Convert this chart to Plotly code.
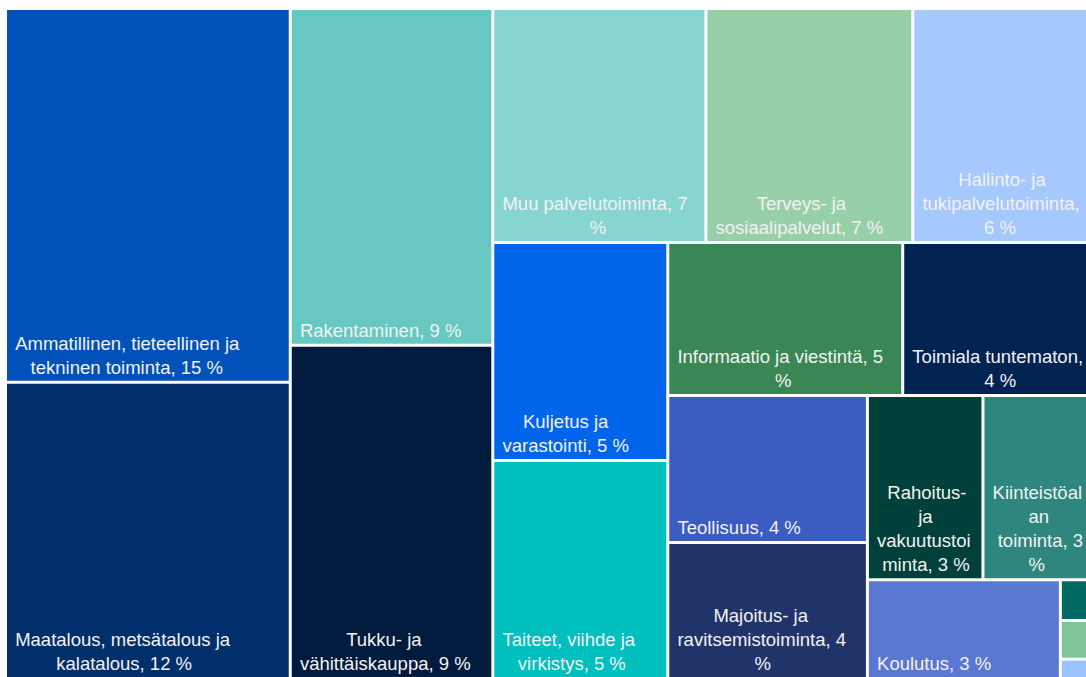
import plotly.graph_objects as go

# ---- data -------------------------------------------------------------
categories = [
    "Ammatillinen, tieteellinen ja tekninen toiminta",
    "Maatalous, metsätalous ja kalatalous",
    "Rakentaminen",
    "Tukku- ja vähittäiskauppa",
    "Muu palvelutoiminta",
    "Terveys- ja sosiaalipalvelut",
    "Hallinto- ja tukipalvelutoiminta",
    "Kuljetus ja varastointi",
    "Taiteet, viihde ja virkistys",
    "Informaatio ja viestintä",
    "Toimiala tuntematon",
    "Teollisuus",
    "Majoitus- ja ravitsemistoiminta",
    "Rahoitus- ja vakuutustoiminta",
    "Kiinteistöalan toiminta",
    "Koulutus",
    "Vesihuolto, viemäri- ja jätevesihuolto",
    "Sähkö-, kaasu- ja lämpöhuolto",
    "Kaivostoiminta ja louhinta",
]
shares = [14.51, 11.5, 9.3, 9.2, 6.8, 6.6, 5.8, 5.2, 5.2, 4.9, 4.0, 4.0, 3.7,
          2.9, 2.8, 2.6, 0.19, 0.18, 0.09]
# label text as wrapped in the picture
wrapped_names = [
    "Ammatillinen, tieteellinen ja<br>tekninen toiminta",
    "Maatalous, metsätalous ja<br>kalatalous",
    "Rakentaminen",
    "Tukku- ja<br>vähittäiskauppa",
    "Muu palvelutoiminta, 7<br>%",
    "Terveys- ja<br>sosiaalipalvelut",
    "Hallinto- ja<br>tukipalvelutoiminta,<br>6 %",
    "Kuljetus ja<br>varastointi",
    "Taiteet, viihde ja<br>virkistys",
    "Informaatio ja viestintä, 5<br>%",
    "Toimiala tuntematon,<br>4 %",
    "Teollisuus",
    "Majoitus- ja<br>ravitsemistoiminta, 4<br>%",
    "Rahoitus-<br>ja<br>vakuutustoi<br>minta, 3 %",
    "Kiinteistöal<br>an<br>toiminta, 3<br>%",
    "Koulutus",
    "V<br>e<br>s<br>i",
    "S<br>ä<br>h",
    "K<br>a<br>i",
]
colors = [
    "#0051BA", "#002F6C", "#66C8C1", "#001B3E", "#87D5D0", "#97CFA9",
    "#A5C8FF", "#0065EB", "#00BFBF", "#3A8755", "#012352", "#3B5CC0",
    "#213469", "#00403A", "#2E867E", "#5A78D1", "#006A62", "#7DC597",
    "#9AC2FF",
]
# grouping of the tiles (layout blocks, alternating column/row splits)
group_ids = ["root", "c1", "c2", "r", "r_top", "r_low", "k", "i", "i_top",
             "t", "tl", "f", "f_top", "g", "h"]
group_parents = ["", "root", "root", "root", "r", "r", "r_low", "r_low", "i",
                 "i", "t", "t", "f", "f", "g"]
leaf_parents = ["c1", "c1", "c2", "c2", "r_top", "r_top", "r_top", "k", "k",
                "i_top", "i_top", "tl", "tl", "f_top", "f_top", "g", "h", "h", "h"]

# ---- text formatting --------------------------------------------------
FONT_SIZE = 18.5
LEAD_PX = 6.0  # extra inset of the label block from the tile's left edge
NBSP = "\u00a0"
# Arial / Liberation Sans advance widths (per 1000 em)
ADV = {" ": 278, NBSP: 278, ",": 278, "-": 333, "%": 889, ".": 278}
ADV.update({d: 556 for d in "0123456789"})
ADV.update(dict(zip("ABCDEFGHIJKLMNOPQRSTUVWXYZ",
                    [667, 667, 722, 722, 667, 611, 778, 722, 278, 500, 667, 556,
                     833, 722, 778, 667, 778, 722, 667, 611, 722, 667, 944, 667,
                     667, 611])))
ADV.update(dict(zip("abcdefghijklmnopqrstuvwxyz",
                    [556, 556, 500, 556, 556, 278, 556, 556, 222, 222, 500, 222,
                     833, 556, 556, 556, 556, 333, 500, 278, 556, 500, 722, 500,
                     500, 500])))
ADV.update({"ä": 556, "ö": 556, "Ä": 667, "Ö": 778})


def text_width(s):
    return sum(ADV.get(c, 556) for c in s) / 1000.0 * FONT_SIZE


def centred_block(label):
    """Lines centred on each other inside a left-anchored block."""
    lines = label.split("<br>")
    widths = [text_width(l) for l in lines]
    wmax = max(widths)
    sp = text_width(NBSP)
    out = []
    for line, w in zip(lines, widths):
        n = int(round(((wmax - w) / 2.0 + LEAD_PX) / sp))
        out.append(NBSP * n + line)
    return "<br>".join(out)


def label_text(wrapped, share):
    if "%" not in wrapped:
        wrapped = f"{wrapped}, {round(share)} %"
    return centred_block(wrapped)


# ---- build ------------------------------------------------------------
# groups (except the last small block) first, then leaves, then the small
# block so that sibling order follows the picture
last_group = group_ids[-1]
g_ids = [g for g in group_ids if g != last_group]
g_par = [p for g, p in zip(group_ids, group_parents) if g != last_group]

ids = g_ids + [f"leaf{i}" for i in range(len(categories))] + [last_group]
labels = [""] * len(g_ids) + categories + [""]
parents = g_par + leaf_parents + [group_parents[-1]]
values = [0] * len(g_ids) + shares + [0]
texts = [""] * len(g_ids) + [
    label_text(w, s) for w, s in zip(wrapped_names, shares)
] + [""]
marker_colors = ["#FFFFFF"] * len(g_ids) + colors + ["#FFFFFF"]

fig = go.Figure(
    go.Treemap(
        ids=ids,
        labels=labels,
        parents=parents,
        values=values,
        text=texts,
        textinfo="text",
        textposition="bottom left",
        textfont=dict(family="Liberation Sans, Arial, sans-serif",
                      size=FONT_SIZE, color="#F2F2F2"),
        branchvalues="remainder",
        sort=False,
        marker=dict(colors=marker_colors, line=dict(width=0),
                    pad=dict(t=0, l=0, r=0, b=0)),
        tiling=dict(packing="slice-dice", pad=3),
        pathbar=dict(visible=False),
        hoverinfo="skip",
        root=dict(color="#FFFFFF"),
    )
)
fig.update_layout(
    width=1093,
    height=677,
    margin=dict(l=7, r=0, t=10, b=0),
    paper_bgcolor="#FFFFFF",
    uniformtext=dict(minsize=14, mode="hide"),
)
fig.write_html(
    "out.html",
    config={"displayModeBar": False},
    post_script="document.body.style.margin='0px';document.body.style.overflow='hidden';",
)
